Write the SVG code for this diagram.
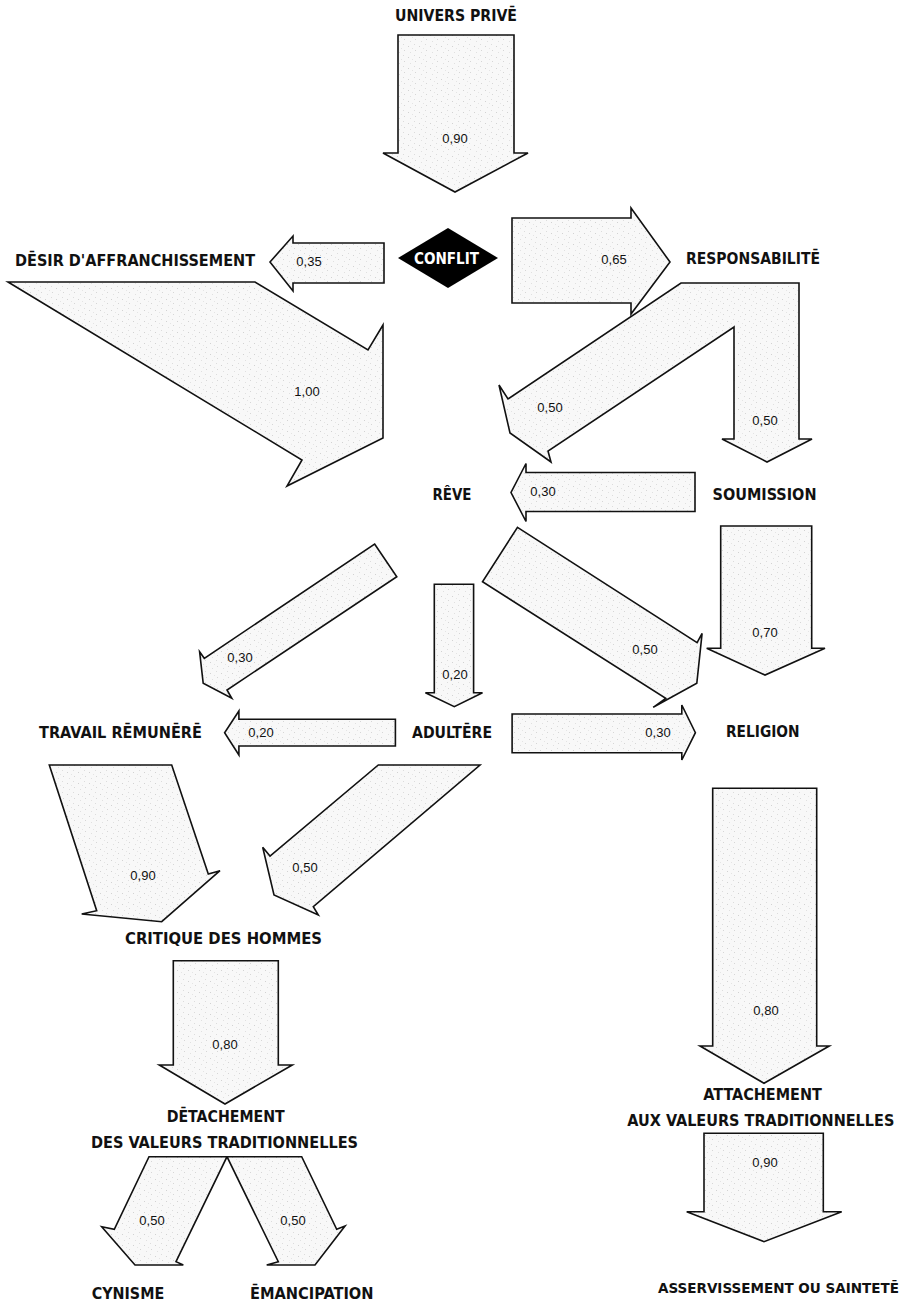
<svg xmlns="http://www.w3.org/2000/svg" width="909" height="1306" viewBox="0 0 909 1306">
<style>
.lbl{font-family:"Liberation Sans Narrow","DejaVu Sans Condensed","Liberation Sans",sans-serif;font-weight:bold;font-size:16px;fill:#111;}
.num{font-family:"Liberation Sans","DejaVu Sans",sans-serif;font-size:13px;fill:#111;text-anchor:middle;}
.arr{fill:url(#stip);stroke:#111;stroke-width:1.6;stroke-linejoin:miter;}
</style>
<defs>
<pattern id="stip" patternUnits="userSpaceOnUse" width="11" height="11">
<rect width="11" height="11" fill="#f8f8f8"/>
<rect x="1" y="2" width="1" height="1" fill="#d2d2d2"/>
<rect x="7" y="0" width="1" height="1" fill="#dcdcdc"/>
<rect x="8" y="6" width="1" height="1" fill="#d6d6d6"/>
<rect x="3" y="8" width="1" height="1" fill="#e0e0e0"/>
<rect x="5" y="4" width="1" height="1" fill="#e4e4e4"/>
</pattern>
</defs>
<rect width="909" height="1306" fill="#ffffff"/>

<g id="connectors">
<g id="a_univers_conflit"><polygon class="arr" points="398,35 514,35 514,153 528,153 455,192 383,153 398,153"/><text class="num" x="455" y="143">0,90</text></g>
<g id="a_conflit_desir"><polygon class="arr" points="384,243 384,283 293,283 293,291 270,262 293,236 293,243"/><text class="num" x="309" y="266">0,35</text></g>
<g id="a_conflit_resp"><polygon class="arr" points="512,218 631,218 631,208 670,262 631,314 631,303 512,303"/><text class="num" x="614" y="264">0,65</text></g>
<g id="a_desir_reve"><polygon class="arr" points="8,282 255,282 368,350 383,325 383,438 287,486 302,460"/><text class="num" x="307" y="396">1,00</text></g>
<g id="a_resp_reve_soum"><polygon class="arr" points="681,283 799,283 799,439 812,439 767,462 722,439 734,439 734,327 548,451 551,462 510,433 499,385 508,399"/><text class="num" x="550" y="412">0,50</text><text class="num" x="765" y="425">0,50</text></g>
<g id="a_soum_reve"><polygon class="arr" points="695,472.5 695,511.5 526,511.5 526,521.5 511,492.5 526,463.5 526,472.5"/><text class="num" x="543" y="496">0,30</text></g>
<g id="a_reve_travail"><polygon class="arr" points="374.6,544 396.8,576.7 227,690 231.8,698.3 203.2,683.3 199.6,651.7 204.3,658.3"/><text class="num" x="240" y="662">0,30</text></g>
<g id="a_reve_adultere"><polygon class="arr" points="434.3,584.3 473.6,584.3 473.6,692.7 482.5,692.7 454.3,706.7 425.4,692.7 434.3,692.7"/><text class="num" x="455" y="678.5">0,20</text></g>
<g id="a_reve_religion"><polygon class="arr" points="517.5,527.3 697.1,642.7 702.1,633.3 696.8,683.3 653.2,707.3 665.7,698.3 482.5,581.7"/><text class="num" x="645" y="654">0,50</text></g>
<g id="a_soum_religion"><polygon class="arr" points="720.7,526 811.7,526 811.7,648.3 825,648.3 765,675 706.7,648.3 720.7,648.3"/><text class="num" x="765" y="637">0,70</text></g>
<g id="a_adultere_travail"><polygon class="arr" points="395.4,719.3 395.4,746 238.9,746 238.9,755 224.6,732.7 238.9,711 238.9,719.3"/><text class="num" x="261" y="737">0,20</text></g>
<g id="a_adultere_religion"><polygon class="arr" points="512.1,714 681.8,714 681.8,705 695.4,732.7 681.8,760 681.8,752.7 512.1,752.7"/><text class="num" x="658" y="736.5">0,30</text></g>
<g id="a_travail_critique"><polygon class="arr" points="49.3,765 171.7,765 208.3,874 220,870.7 161.7,921.7 81.7,914 96.7,910.7"/><text class="num" x="143" y="879.5">0,90</text></g>
<g id="a_adultere_critique"><polygon class="arr" points="378.3,765 480,765 313.3,906.7 318.3,915 274,895 262.7,847.3 270,856"/><text class="num" x="305" y="872">0,50</text></g>
<g id="a_critique_detach"><polygon class="arr" points="173.3,960.7 278.3,960.7 278.3,1065 292.3,1065 225,1104 159.3,1065 173.3,1065"/><text class="num" x="225" y="1048.5">0,80</text></g>
<g id="a_detach_cynisme"><polygon class="arr" points="149,1156.7 227,1156.7 176,1261.7 183.3,1265 135,1265 101.7,1226.7 114.3,1229.3"/><text class="num" x="152" y="1225">0,50</text></g>
<g id="a_detach_eman"><polygon class="arr" points="227,1156.7 301.7,1156.7 336.7,1229.3 345,1226 315,1265 266.7,1265 278.3,1261.7"/><text class="num" x="293" y="1225">0,50</text></g>
<g id="a_religion_attach"><polygon class="arr" points="712.7,788.3 816.7,788.3 816.7,1046 829.3,1046 764,1083.3 700,1046 712.7,1046"/><text class="num" x="766" y="1015">0,80</text></g>
<g id="a_attach_asserv"><polygon class="arr" points="704,1133.3 823.3,1133.3 823.3,1211.7 841.7,1211.7 764,1241.7 686.7,1211.7 704,1211.7"/><text class="num" x="765" y="1167">0,90</text></g>
</g>

<g id="n_univers"><text class="lbl" x="395" y="21" textLength="122" lengthAdjust="spacingAndGlyphs">UNIVERS PRIVĒ</text></g>
<g id="n_conflit"><polygon points="398,258 448,228 498,258 448,288" fill="#000"/><text class="lbl" x="414" y="264" textLength="65" lengthAdjust="spacingAndGlyphs" style="fill:#fff">CONFLIT</text></g>
<g id="n_desir"><text class="lbl" x="15" y="266" textLength="240" lengthAdjust="spacingAndGlyphs">DĒSIR D'AFFRANCHISSEMENT</text></g>
<g id="n_resp"><text class="lbl" x="686" y="264" textLength="134" lengthAdjust="spacingAndGlyphs">RESPONSABILITĒ</text></g>
<g id="n_reve"><text class="lbl" x="432.5" y="499.5" textLength="39" lengthAdjust="spacingAndGlyphs">RÊVE</text></g>
<g id="n_soumission"><text class="lbl" x="712.5" y="499.5" textLength="104" lengthAdjust="spacingAndGlyphs">SOUMISSION</text></g>
<g id="n_travail"><text class="lbl" x="39" y="738" textLength="163" lengthAdjust="spacingAndGlyphs">TRAVAIL RĒMUNĒRĒ</text></g>
<g id="n_adultere"><text class="lbl" x="412" y="737.5" textLength="80" lengthAdjust="spacingAndGlyphs">ADULTĒRE</text></g>
<g id="n_religion"><text class="lbl" x="726" y="737" textLength="73.5" lengthAdjust="spacingAndGlyphs">RELIGION</text></g>
<g id="n_critique"><text class="lbl" x="125" y="944.3" textLength="197" lengthAdjust="spacingAndGlyphs">CRITIQUE DES HOMMES</text></g>
<g id="n_detachement"><text class="lbl" x="166.7" y="1121.7" textLength="118" lengthAdjust="spacingAndGlyphs">DĒTACHEMENT</text><text class="lbl" x="91" y="1148.3" textLength="267" lengthAdjust="spacingAndGlyphs">DES VALEURS TRADITIONNELLES</text></g>
<g id="n_attachement"><text class="lbl" x="703.3" y="1100" textLength="118.5" lengthAdjust="spacingAndGlyphs">ATTACHEMENT</text><text class="lbl" x="627.3" y="1126" textLength="267" lengthAdjust="spacingAndGlyphs">AUX VALEURS TRADITIONNELLES</text></g>
<g id="n_cynisme"><text class="lbl" x="91.7" y="1299.3" textLength="72.5" lengthAdjust="spacingAndGlyphs">CYNISME</text></g>
<g id="n_emancipation"><text class="lbl" x="250" y="1299.3" textLength="123.5" lengthAdjust="spacingAndGlyphs">ĒMANCIPATION</text></g>
<g id="n_asservissement"><text class="lbl" x="899" y="1293.3" text-anchor="end" style="font-size:13.5px" textLength="241" lengthAdjust="spacingAndGlyphs">ASSERVISSEMENT OU SAINTETĒ</text></g>
</svg>
